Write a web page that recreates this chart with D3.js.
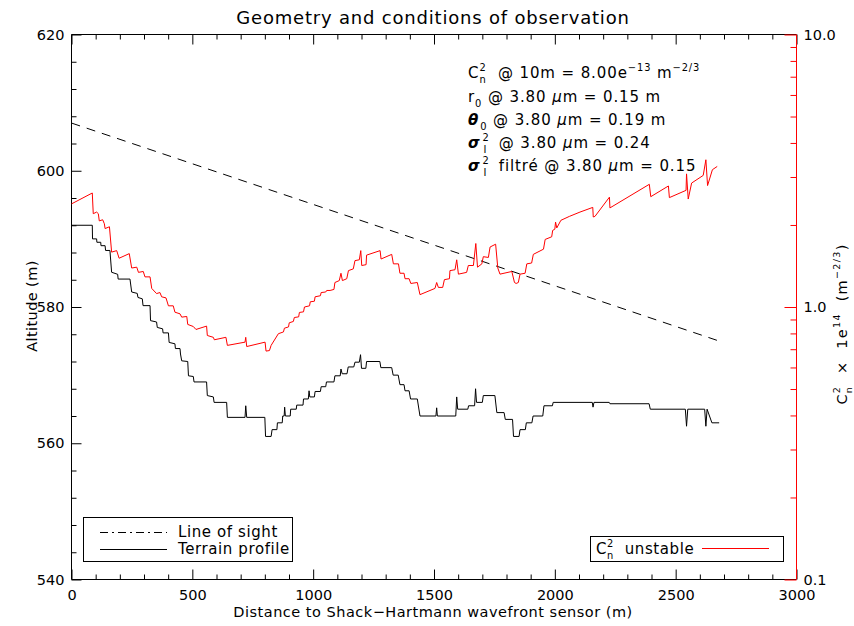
<!DOCTYPE html>
<html><head><meta charset="utf-8">
<script src="https://cdn.jsdelivr.net/npm/d3@7"></script>
<style>
body{margin:0;background:#fff}
svg{display:block}
text{font-family:"DejaVu Sans",sans-serif;fill:#000;white-space:pre}
</style></head><body>
<svg id="c" width="854" height="626"></svg>
<script>
// ---------------- data ----------------
const xTicks = [0, 500, 1000, 1500, 2000, 2500, 3000];
const yTicks = [540, 560, 580, 600, 620];
const cn2Ticks = [0.1, 1, 10];

const losDist = [0, 2680];
const losAlt = [607, 575];

const terrainDist = [0,86,87,104,105,121,122,139,141,159,166,191,193,242,249,272,275,293,296,325,327,352,355,377,379,401,404,428,430,449,451,456,481,484,504,507,559,562,587,590,642,645,718,721,725,800,803,826,830,850,852,872,874,880,882,885,905,907,930,932,958,960,980,983,986,1005,1008,1030,1033,1052,1055,1086,1090,1112,1115,1120,1140,1145,1168,1173,1191,1196,1200,1218,1221,1276,1280,1325,1331,1352,1359,1376,1380,1397,1403,1431,1442,1508,1511,1514,1590,1594,1598,1640,1643,1668,1672,1676,1700,1704,1752,1760,1790,1795,1825,1829,1852,1856,1878,1882,1905,1910,1950,1955,1990,1993,2155,2158,2162,2225,2228,2390,2395,2540,2545,2550,2620,2625,2630,2650,2680];
const terrainAlt = [592,592,590,590,589.5,589.5,589,589,588.3,588.3,585.1,584.8,584.1,584.1,582.2,582,581.4,581.2,580.2,580.2,578,577.8,577,576.8,576.2,576.2,574.8,574.6,573.9,573.9,573.1,572.1,572,569.9,569.8,569,569,567,566.8,566,566,563.8,563.8,565.5,563.8,563.8,561,561,562,562,563,563,564,564,565.3,564,564,565,565,565.6,565.6,566.5,566.5,567.7,566.8,566.8,567.6,567.6,568.3,568.3,569,569,569.9,569.9,570.9,570.2,570.2,571.2,571.2,571.9,571.9,573,571,571,572,572,571.1,571.1,570,570,568.6,568.6,567.7,567.7,566.5,566.5,564,564,565.2,564,564,566.8,565,565,565.5,565.5,568,566,566,567,567,564.5,564.5,563.5,563.5,561,561,562,562,563,563,564,564,565.5,565.5,566,566,565.3,566,566,565.8,565.8,565,565,562.5,565,565,562.5,565,563,563];

const cn2Dist = [0,86,90,104,111,115,129,136,139,157,166,187,197,239,249,270,277,297,304,325,332,352,366,373,391,401,421,428,449,456,477,481,504,515,559,562,587,591,639,645,718,721,725,801,805,819,826,856,877,881,898,901,918,922,940,943,960,964,985,988,1005,1008,1030,1033,1052,1056,1070,1086,1090,1108,1115,1121,1139,1146,1166,1173,1191,1197,1201,1219,1221,1277,1281,1325,1332,1353,1359,1376,1380,1397,1404,1431,1442,1504,1511,1518,1536,1543,1564,1566,1587,1594,1601,1635,1642,1663,1673,1680,1698,1704,1725,1732,1755,1764,1773,1822,1833,1840,1849,1856,1877,1884,1904,1911,1953,1960,1987,1991,2000,2003,2008,2025,2060,2104,2157,2159,2166,2226,2228,2391,2397,2470,2474,2543,2545,2552,2566,2614,2625,2632,2652,2672];
const cn2Val = [2.39,2.62,2.20,2.23,2.20,2.07,2.09,2.02,1.94,1.97,1.59,1.61,1.51,1.57,1.39,1.40,1.34,1.35,1.29,1.29,1.17,1.12,1.13,1.09,1.08,1.01,1.01,0.957,0.944,0.918,0.923,0.863,0.848,0.827,0.851,0.786,0.774,0.758,0.774,0.723,0.743,0.774,0.716,0.743,0.689,0.692,0.723,0.798,0.810,0.836,0.845,0.875,0.885,0.915,0.920,0.955,0.960,1.00,1.01,1.045,1.05,1.09,1.10,1.13,1.135,1.15,1.15,1.16,1.23,1.25,1.33,1.25,1.27,1.36,1.38,1.48,1.49,1.61,1.42,1.43,1.55,1.61,1.50,1.56,1.44,1.44,1.33,1.33,1.27,1.27,1.22,1.23,1.11,1.17,1.23,1.18,1.18,1.26,1.27,1.36,1.37,1.49,1.32,1.34,1.42,1.42,1.71,1.40,1.44,1.53,1.52,1.66,1.70,1.39,1.32,1.35,1.23,1.22,1.23,1.32,1.33,1.44,1.45,1.56,1.63,1.77,1.81,1.91,1.93,2.05,1.95,2.08,2.15,2.23,2.32,2.14,2.15,2.53,2.31,2.82,2.54,2.78,2.52,2.68,3.08,2.49,2.85,3.04,3.47,2.79,3.19,3.28];

// ---------------- layout ----------------
const L = 71.5, R = 796.5, T = 34.5, B = 579.5;
const svg = d3.select("#c");
const x = d3.scaleLinear().domain([0, 3000]).range([L, R]);
const y = d3.scaleLinear().domain([540, 620]).range([B, T]);
const yl = d3.scaleLog().domain([0.1, 10]).range([B, T]);
const RED = "#ff0000";
const FS = 14.5;

function rangeStep(a, b, s) { const r = []; for (let v = a; v <= b + 1e-9; v += s) r.push(v); return r; }
const xMinor = rangeStep(0, 3000, 100).filter(v => v % 500 !== 0);
const yMinor = rangeStep(540, 620, 4).filter(v => (v - 540) % 20 !== 0);
const logMinor = [];
[0.1, 1].forEach(b => { for (let k = 2; k <= 9; k++) logMinor.push(b * k); });

function styleAxis(g, color) {
  g.select(".domain").remove();
  g.selectAll("line").attr("stroke", color).attr("stroke-width", 1);
  g.selectAll("text").style("font-family", '"DejaVu Sans",sans-serif').style("font-size", FS + "px").attr("fill", color);
}

// bottom
svg.append("g").attr("transform", `translate(0,${B})`)
  .call(d3.axisBottom(x).tickValues(xTicks).tickFormat(d3.format("d")).tickSize(-10).tickSizeOuter(0).tickPadding(10))
  .call(g => styleAxis(g, "#000"));
svg.append("g").attr("transform", `translate(0,${B})`)
  .call(d3.axisBottom(x).tickValues(xMinor).tickFormat("").tickSize(-5).tickSizeOuter(0))
  .call(g => styleAxis(g, "#000"));
// top
svg.append("g").attr("transform", `translate(0,${T})`)
  .call(d3.axisTop(x).tickValues(xTicks).tickFormat("").tickSize(-10).tickSizeOuter(0))
  .call(g => styleAxis(g, "#000"));
svg.append("g").attr("transform", `translate(0,${T})`)
  .call(d3.axisTop(x).tickValues(xMinor).tickFormat("").tickSize(-5).tickSizeOuter(0))
  .call(g => styleAxis(g, "#000"));
// left
svg.append("g").attr("transform", `translate(${L},0)`)
  .call(d3.axisLeft(y).tickValues(yTicks).tickFormat(d3.format("d")).tickSize(-10).tickSizeOuter(0).tickPadding(7))
  .call(g => styleAxis(g, "#000"));
svg.append("g").attr("transform", `translate(${L},0)`)
  .call(d3.axisLeft(y).tickValues(yMinor).tickFormat("").tickSize(-5).tickSizeOuter(0))
  .call(g => styleAxis(g, "#000"));

// frame
svg.append("line").attr("x1", L).attr("x2", R).attr("y1", T).attr("y2", T).attr("stroke", "#000");
svg.append("line").attr("x1", L).attr("x2", R).attr("y1", B).attr("y2", B).attr("stroke", "#000");
svg.append("line").attr("x1", L).attr("x2", L).attr("y1", T).attr("y2", B).attr("stroke", "#000");

// right (log, red)
svg.append("g").attr("transform", `translate(${R},0)`)
  .call(d3.axisRight(yl).tickValues(cn2Ticks).tickFormat(d3.format(".1f")).tickSize(-12).tickSizeOuter(0).tickPadding(7))
  .call(g => styleAxis(g, RED));
svg.append("g").attr("transform", `translate(${R},0)`)
  .call(d3.axisRight(yl).tickValues(logMinor).tickFormat("").tickSize(-6).tickSizeOuter(0))
  .call(g => styleAxis(g, RED));
svg.append("line").attr("x1", R).attr("x2", R).attr("y1", T).attr("y2", B).attr("stroke", RED);

// ---------------- series ----------------
const line = d3.line().x(d => x(d[0])).y(d => y(d[1]));
svg.append("path").datum(d3.zip(losDist, losAlt)).attr("d", line)
  .attr("fill", "none").attr("stroke", "#000").attr("stroke-dasharray", "9,7");
svg.append("path").datum(d3.zip(terrainDist, terrainAlt)).attr("d", line)
  .attr("fill", "none").attr("stroke", "#000");
const lineL = d3.line().x(d => x(d[0])).y(d => yl(d[1]));
svg.append("path").datum(d3.zip(cn2Dist, cn2Val)).attr("d", lineL)
  .attr("fill", "none").attr("stroke", RED);

// ---------------- rich text helper ----------------
function rich(parent, px, py, segs, o) {
  o = o || {};
  const base = o.size || 15;
  const small = base * 0.66;
  const t = parent.append("text").attr("x", px).attr("y", py)
    .attr("xml:space", "preserve")
    .style("font-size", base + "px").style("letter-spacing", (o.ls || 0) + "px")
    .attr("fill", o.color || "#000");
  if (o.anchor) t.attr("text-anchor", o.anchor);
  if (o.transform) t.attr("transform", o.transform);
  let cur = 0, prevLen = 0;
  segs.forEach(s => {
    const ts = t.append("tspan").text(s.t);
    const pos = s.p || "n";
    const sz = pos === "n" ? base : small;
    ts.style("font-size", sz + "px");
    const target = pos === "sup" ? -base * 0.45 : pos === "sub" ? base * 0.33 : 0;
    if (target - cur !== 0) ts.attr("dy", target - cur);
    cur = target;
    if (s.back) ts.attr("dx", -prevLen + (s.shift || 0));
    else if (s.dx) ts.attr("dx", s.dx);
    if (s.i) ts.style("font-style", "italic");
    if (s.b) ts.style("font-weight", "bold");
    prevLen = ts.node().getComputedTextLength();
  });
  return t;
}

// title
svg.append("text").attr("x", 433).attr("y", 24).attr("text-anchor", "middle")
  .style("font-size", "18px").style("letter-spacing", "0.8px").text("Geometry and conditions of observation");

// axis titles
svg.append("text").attr("x", 433).attr("y", 617).attr("text-anchor", "middle")
  .style("font-size", "14.5px").style("letter-spacing", "0.5px").text("Distance to Shack\u2212Hartmann wavefront sensor (m)");
svg.append("text").attr("transform", "translate(37,306) rotate(-90)").attr("text-anchor", "middle")
  .style("font-size", "14.5px").style("letter-spacing", "0.4px").text("Altitude (m)");
rich(svg, 0, 0, [
  {t: "C"}, {t: "2", p: "sup"}, {t: "n", p: "sub", back: true},
  {t: "  \u00d7  1e"}, {t: "14", p: "sup"}, {t: "  (m"}, {t: "\u22122/3", p: "sup"}, {t: ")"}
], {size: 14.5, ls: 1.3, color: RED, anchor: "middle", transform: "translate(847,324) rotate(-90)"});

// annotations
const AX = 468;
const mu = {t: "\u03bc", i: true};
const LS = 0.9;
rich(svg, AX, 78, [
  {t: "C"}, {t: "2", p: "sup"}, {t: "n", p: "sub", back: true},
  {t: "  @ 10m = 8.00e"}, {t: "\u221213", p: "sup"}, {t: " m"}, {t: "\u22122/3", p: "sup"}
], {ls: LS});
rich(svg, AX, 102, [
  {t: "r"}, {t: "0", p: "sub"}, {t: " @ 3.80 "}, mu, {t: "m = 0.15 m"}
], {ls: LS});
rich(svg, AX, 125, [
  {t: "\u03b8", i: true, b: true}, {t: "0", p: "sub", dx: 1}, {t: " @ 3.80 "}, mu, {t: "m = 0.19 m"}
], {ls: LS});
rich(svg, AX, 148, [
  {t: "\u03c3", i: true, b: true}, {t: "2", p: "sup", dx: 2}, {t: "I", p: "sub", back: true, shift: 1}, {t: "  @ 3.80 "}, mu, {t: "m = 0.24"}
], {ls: LS});
rich(svg, AX, 171, [
  {t: "\u03c3", i: true, b: true}, {t: "2", p: "sup", dx: 2}, {t: "I", p: "sub", back: true, shift: 1}, {t: "  filtré @ 3.80 "}, mu, {t: "m = 0.15"}
], {ls: LS});

// legend left
const lg = svg.append("g");
lg.append("rect").attr("x", 83.5).attr("y", 517.5).attr("width", 209).attr("height", 44)
  .attr("fill", "#fff").attr("stroke", "#000");
lg.append("line").attr("x1", 100).attr("x2", 167).attr("y1", 532.5).attr("y2", 532.5)
  .attr("stroke", "#000").attr("stroke-dasharray", "8,4,2,4");
lg.append("line").attr("x1", 100).attr("x2", 167).attr("y1", 549.5).attr("y2", 549.5).attr("stroke", "#000");
lg.append("text").attr("x", 178).attr("y", 537).style("font-size", "15px").style("letter-spacing", "0.6px").text("Line of sight");
lg.append("text").attr("x", 178).attr("y", 554).style("font-size", "15px").style("letter-spacing", "0.6px").text("Terrain profile");

// legend right
const lr = svg.append("g");
lr.append("rect").attr("x", 590.5).attr("y", 536.5).attr("width", 193).attr("height", 25)
  .attr("fill", "#fff").attr("stroke", "#000");
rich(lr, 596, 554, [{t: "C"}, {t: "2", p: "sup"}, {t: "n", p: "sub", back: true}, {t: "  unstable"}], {ls: 0.6});
lr.append("line").attr("x1", 702).attr("x2", 769).attr("y1", 548.5).attr("y2", 548.5).attr("stroke", RED);
</script></body></html>
